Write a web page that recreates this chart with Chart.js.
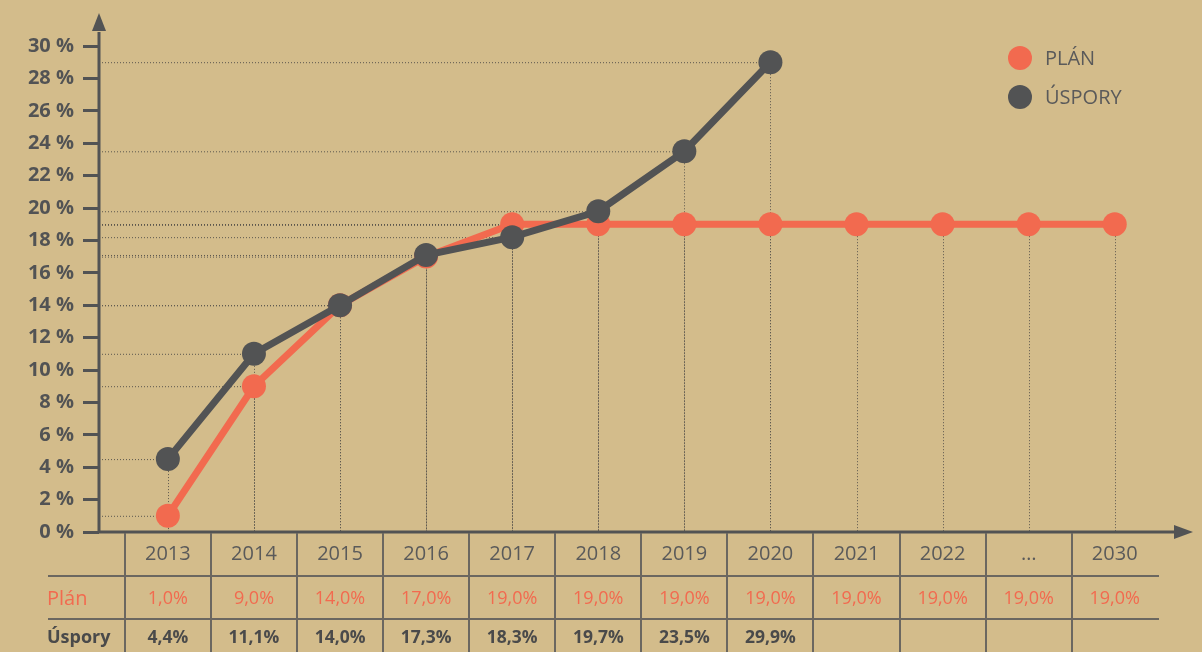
<!DOCTYPE html>
<html>
<head>
<meta charset="utf-8">
<script src="https://cdn.jsdelivr.net/npm/chart.js@4"></script>
<style>
  html, body { margin: 0; padding: 0; background: #d3bc8b; }
  #wrap { width: 1202px; height: 652px; }
</style>
</head>
<body>
<div id="wrap"><canvas id="lineChart"></canvas></div>
<script>
const years = ['2013', '2014', '2015', '2016', '2017', '2018', '2019', '2020', '2021', '2022', '…', '2030'];
const planValues = [1.0, 9.0, 14.0, 17.0, 19.0, 19.0, 19.0, 19.0, 19.0, 19.0, 19.0, 19.0];
const savingsPlotted = [4.5, 11.0, 14.0, 17.1, 18.2, 19.8, 23.5, 29.0];
const savingsTable = [4.4, 11.1, 14.0, 17.3, 18.3, 19.7, 23.5, 29.9];
const yTicks = [0, 2, 4, 6, 8, 10, 12, 14, 16, 18, 20, 22, 24, 26, 28, 30];

const RED = '#f26a4f';
const GRAY = '#525354';
const FONT = '"Open Sans", sans-serif';

const pct = v => v.toFixed(1).replace('.', ',') + '%';

const chartExtras = {
  id: 'chartExtras',
  beforeDatasetsDraw(chart) {
    const { ctx, scales: { x, y } } = chart;
    const left = x.left;
    const bottom = y.getPixelForValue(0);
    ctx.save();
    ctx.strokeStyle = '#5c574e';
    ctx.lineWidth = 1;
    ctx.setLineDash([1, 2]);
    chart.data.datasets.forEach(ds => {
      ds.data.forEach(p => {
        const px = x.getPixelForValue(p.x);
        const py = y.getPixelForValue(p.y);
        ctx.beginPath();
        ctx.moveTo(left, py + 0.5);
        ctx.lineTo(px, py + 0.5);
        ctx.moveTo(Math.round(px) + 0.5, py);
        ctx.lineTo(Math.round(px) + 0.5, bottom);
        ctx.stroke();
      });
    });
    ctx.restore();
  },
  afterDatasetsDraw(chart) {
    const { ctx, scales: { x, y } } = chart;
    const left = x.left;
    const bottom = y.getPixelForValue(0);
    const top = y.getPixelForValue(30);
    ctx.save();
    // axes
    ctx.strokeStyle = GRAY;
    ctx.fillStyle = GRAY;
    ctx.lineWidth = 3;
    ctx.beginPath();
    ctx.moveTo(left, bottom);
    ctx.lineTo(left, top - 14);
    ctx.moveTo(left - 1.5, bottom);
    ctx.lineTo(x.right, bottom);
    ctx.stroke();
    ctx.beginPath();
    ctx.moveTo(left, 13);
    ctx.lineTo(left - 7, 31);
    ctx.lineTo(left + 7, 31);
    ctx.closePath();
    ctx.fill();
    ctx.beginPath();
    ctx.moveTo(x.right + 18, bottom);
    ctx.lineTo(x.right - 1, bottom - 7);
    ctx.lineTo(x.right - 1, bottom + 7);
    ctx.closePath();
    ctx.fill();

    // legend
    const legend = [['PLÁN', RED, 58], ['ÚSPORY', GRAY, 97]];
    ctx.font = '20px ' + FONT;
    ctx.textBaseline = 'middle';
    ctx.textAlign = 'left';
    legend.forEach(([label, color, ly]) => {
      ctx.fillStyle = color;
      ctx.beginPath();
      ctx.arc(1020, ly, 12, 0, Math.PI * 2);
      ctx.fill();
      ctx.fillStyle = '#5a5a5a';
      ctx.fillText(label, 1045, ly + 1);
    });

    // table
    const step = x.getPixelForValue(1) - x.getPixelForValue(0);
    ctx.strokeStyle = '#6b6760';
    ctx.lineWidth = 2;
    ctx.beginPath();
    years.forEach((yr, i) => {
      const cx = Math.round(x.getPixelForValue(i) - step / 2);
      ctx.moveTo(cx, bottom + 1);
      ctx.lineTo(cx, 652);
    });
    ctx.moveTo(48, 576);
    ctx.lineTo(1159, 576);
    ctx.moveTo(48, 619);
    ctx.lineTo(1159, 619);
    ctx.stroke();

    ctx.textAlign = 'center';
    ctx.font = '20px ' + FONT;
    ctx.fillStyle = '#5a5a5a';
    years.forEach((yr, i) => ctx.fillText(yr, x.getPixelForValue(i), 554));

    ctx.font = '18px ' + FONT;
    ctx.fillStyle = RED;
    planValues.forEach((v, i) => ctx.fillText(pct(v), x.getPixelForValue(i), 599));

    ctx.font = 'bold 17.5px ' + FONT;
    ctx.fillStyle = '#4a4a4a';
    savingsTable.forEach((v, i) => ctx.fillText(pct(v), x.getPixelForValue(i), 638));

    ctx.textAlign = 'left';
    ctx.font = '20px ' + FONT;
    ctx.fillStyle = RED;
    ctx.fillText('Plán', 47, 599);
    ctx.font = 'bold 18px ' + FONT;
    ctx.fillStyle = '#4a4a4a';
    ctx.fillText('Úspory', 47, 638);
    ctx.restore();
  }
};

const ctx = document.getElementById('lineChart').getContext('2d');
const lineChart = new Chart(ctx, {
  type: 'line',
  data: {
    datasets: [
      {
        label: 'ÚSPORY',
        data: savingsPlotted.map((v, i) => ({ x: i, y: v })),
        borderColor: GRAY,
        backgroundColor: GRAY,
        borderWidth: 7,
        pointRadius: 12,
        pointBorderWidth: 0,
        pointHoverRadius: 12,
        order: 0
      },
      {
        label: 'PLÁN',
        data: planValues.map((v, i) => ({ x: i, y: v })),
        borderColor: RED,
        backgroundColor: RED,
        borderWidth: 7,
        pointRadius: 12,
        pointBorderWidth: 0,
        pointHoverRadius: 12,
        order: 1
      }
    ]
  },
  options: {
    responsive: true,
    maintainAspectRatio: false,
    animation: false,
    clip: false,
    layout: { padding: { left: 0, top: 46, right: 27, bottom: 120 } },
    plugins: {
      legend: { display: false },
      tooltip: { enabled: false }
    },
    scales: {
      x: {
        type: 'linear',
        display: false,
        min: -0.8,
        max: 11.7
      },
      y: {
        min: 0,
        max: 30,
        afterFit: scale => { scale.width = 99; },
        afterBuildTicks: scale => { scale.ticks = yTicks.map(v => ({ value: v })); },
        border: { display: false },
        grid: {
          drawOnChartArea: false,
          drawTicks: true,
          tickLength: 16,
          tickWidth: 3,
          tickColor: GRAY
        },
        ticks: {
          padding: 9,
          color: GRAY,
          font: { family: FONT, size: 20, weight: 'bold' },
          callback: v => v + ' %'
        }
      }
    }
  },
  plugins: [chartExtras]
});
</script>
</body>
</html>
